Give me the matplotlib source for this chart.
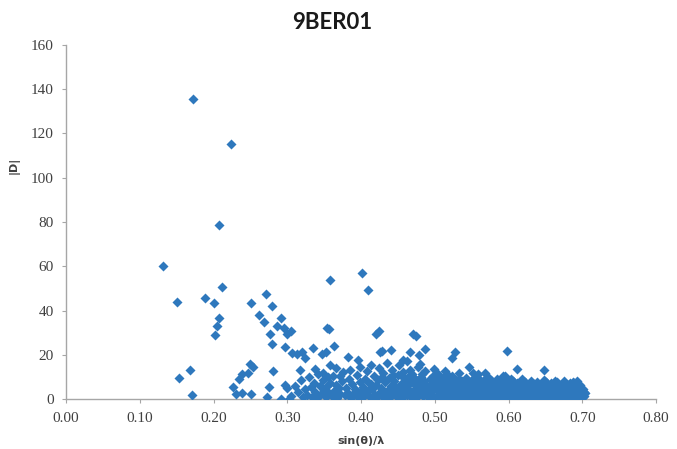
import matplotlib.pyplot as plt

# |D| against sin(theta)/lambda
outliers = [(0.172, 135.6), (0.224, 115.3), (0.207, 78.8), (0.131, 60.0), (0.151, 43.8),
            (0.188, 45.8), (0.201, 43.4), (0.212, 50.6), (0.208, 36.6), (0.205, 32.9),
            (0.202, 28.8), (0.153, 9.6), (0.168, 13.1), (0.171, 2.1), (0.226, 5.5),
            (0.231, 2.3), (0.239, 2.8), (0.251, 2.5), (0.235, 9.3), (0.239, 11.5),
            (0.247, 11.8), (0.249, 16.0), (0.253, 14.3), (0.251, 43.4), (0.271, 47.6),
            (0.279, 42.3), (0.262, 37.8), (0.268, 34.7), (0.292, 36.6), (0.286, 32.9),
            (0.296, 32.3), (0.276, 29.5), (0.300, 29.5), (0.305, 30.6), (0.279, 25.1),
            (0.297, 23.6), (0.306, 20.9), (0.313, 20.3), (0.320, 21.3), (0.324, 18.7),
            (0.335, 23.1), (0.347, 20.3), (0.353, 21.3), (0.364, 23.9), (0.358, 53.9),
            (0.354, 32.3), (0.356, 31.5), (0.402, 56.9), (0.409, 49.1), (0.420, 29.5),
            (0.425, 30.6), (0.280, 12.8), (0.358, 15.6), (0.383, 19.1), (0.440, 22.1),
            (0.429, 21.8), (0.475, 28.4), (0.471, 29.3), (0.466, 21.3), (0.273, 1.0),
            (0.275, 5.3), (0.291, 0.1), (0.302, 0.0), (0.297, 6.3), (0.299, 5.0),
            (0.317, 13.1), (0.487, 22.7), (0.598, 21.8), (0.648, 13.3), (0.611, 13.5),
            (0.595, 10.5), (0.546, 14.6), (0.527, 21.3), (0.524, 18.7), (0.558, 11.5),
            (0.478, 19.8), (0.457, 17.5), (0.480, 16.0), (0.473, 9.3), (0.396, 17.8),
            (0.426, 21.3)]

band_a = [(0.305, 1.5), (0.310, 6.0), (0.314, 3.2), (0.318, 8.5), (0.321, 0.8), (0.324, 4.6),
          (0.327, 2.1), (0.329, 9.8), (0.332, 5.5), (0.334, 1.2), (0.336, 7.4), (0.338, 3.3),
          (0.340, 0.5), (0.342, 11.2), (0.344, 6.1), (0.346, 2.4), (0.348, 8.8), (0.350, 4.0),
          (0.352, 0.9), (0.354, 5.8), (0.356, 2.9), (0.358, 7.1), (0.360, 1.4), (0.362, 10.5),
          (0.364, 3.8), (0.366, 6.6), (0.368, 0.6), (0.370, 4.9), (0.372, 2.2), (0.374, 8.1),
          (0.376, 12.4), (0.378, 1.8), (0.380, 5.2), (0.382, 3.0), (0.384, 9.2), (0.386, 0.7),
          (0.388, 6.9), (0.390, 2.6), (0.392, 4.4), (0.394, 11.0), (0.396, 1.1), (0.398, 7.8),
          (0.400, 3.6), (0.337, 13.6), (0.348, 12.0), (0.366, 14.2), (0.385, 13.3),
          (0.398, 14.6), (0.355, 9.9), (0.372, 10.6)]

band_b = [(0.402, 0.4), (0.403, 5.6), (0.405, 2.3), (0.406, 9.1), (0.408, 12.8), (0.409, 3.9),
          (0.411, 7.2), (0.412, 1.0), (0.414, 15.3), (0.415, 4.7), (0.417, 10.4), (0.418, 2.0),
          (0.420, 6.4), (0.421, 0.6), (0.423, 8.6), (0.424, 13.9), (0.426, 3.4), (0.427, 5.1),
          (0.429, 1.5), (0.430, 11.6), (0.432, 7.7), (0.433, 2.8), (0.435, 16.4), (0.436, 4.3),
          (0.438, 9.5), (0.439, 0.9), (0.441, 6.0), (0.442, 13.0), (0.444, 2.5), (0.445, 8.1),
          (0.447, 4.9), (0.448, 1.3), (0.450, 10.9), (0.451, 15.6), (0.453, 3.1), (0.454, 6.8),
          (0.456, 0.5), (0.457, 12.2), (0.459, 5.4), (0.460, 8.9), (0.462, 2.0), (0.463, 17.2),
          (0.465, 4.1), (0.466, 7.3), (0.468, 1.1), (0.469, 11.4), (0.471, 3.6), (0.472, 9.7),
          (0.474, 5.8), (0.475, 0.7), (0.477, 14.3), (0.478, 2.7), (0.480, 6.6), (0.481, 10.1),
          (0.483, 4.5), (0.484, 1.6), (0.486, 8.3), (0.487, 12.7), (0.489, 3.0), (0.490, 5.9),
          (0.492, 0.9), (0.493, 9.3), (0.495, 2.4), (0.496, 7.0), (0.498, 4.2), (0.499, 13.4),
          (0.413, 6.9), (0.428, 9.8), (0.443, 11.0), (0.458, 3.5), (0.473, 7.9), (0.488, 1.8),
          (0.497, 10.6), (0.419, 1.9), (0.434, 0.3), (0.449, 5.0), (0.464, 9.9), (0.479, 3.9),
          (0.494, 6.3), (0.4525, 0.2), (0.4615, 5.7), (0.4705, 2.0), (0.4755, 8.2),
          (0.4855, 6.3), (0.4915, 3.2), (0.4965, 0.2), (0.4565, 10.1), (0.4665, 13.0),
          (0.4825, 11.2)]

band_c = [(0.501, 0.6), (0.502, 4.8), (0.503, 8.2), (0.504, 2.1), (0.505, 11.3), (0.506, 6.0),
          (0.507, 1.2), (0.508, 3.7), (0.509, 9.4), (0.510, 5.1), (0.511, 0.4), (0.512, 7.3),
          (0.513, 2.8), (0.514, 12.6), (0.515, 4.4), (0.516, 1.7), (0.517, 6.7), (0.518, 9.0),
          (0.519, 3.2), (0.520, 0.8), (0.521, 5.6), (0.522, 2.3), (0.523, 7.9), (0.524, 10.5),
          (0.525, 4.0), (0.526, 1.4), (0.527, 6.2), (0.528, 3.1), (0.529, 8.6), (0.530, 0.5),
          (0.531, 4.9), (0.532, 2.6), (0.533, 11.8), (0.534, 6.9), (0.535, 1.9), (0.536, 3.8),
          (0.537, 8.0), (0.538, 5.3), (0.539, 0.9), (0.540, 2.9), (0.541, 7.1), (0.542, 4.3),
          (0.543, 9.7), (0.544, 1.3), (0.545, 6.4), (0.546, 3.4), (0.547, 0.6), (0.548, 5.0),
          (0.549, 8.4), (0.550, 2.2), (0.551, 4.6), (0.552, 7.5), (0.553, 1.0), (0.554, 3.6),
          (0.555, 10.2), (0.556, 5.7), (0.557, 2.0), (0.558, 0.4), (0.559, 6.6), (0.560, 3.9),
          (0.561, 8.8), (0.562, 1.6), (0.563, 4.5), (0.564, 2.7), (0.565, 7.0), (0.566, 0.8),
          (0.567, 5.4), (0.568, 9.3), (0.569, 3.3), (0.570, 1.5), (0.571, 6.1), (0.572, 4.1),
          (0.573, 2.4), (0.574, 7.7), (0.575, 0.7), (0.576, 5.2), (0.577, 3.0), (0.578, 8.1),
          (0.579, 1.8), (0.580, 4.7), (0.581, 6.8), (0.582, 2.5), (0.583, 0.5), (0.584, 3.7),
          (0.585, 9.0), (0.586, 5.5), (0.587, 1.2), (0.588, 7.3), (0.589, 2.9), (0.590, 4.4),
          (0.591, 0.9), (0.592, 6.3), (0.593, 3.5), (0.594, 8.6), (0.595, 1.7), (0.596, 5.0),
          (0.597, 2.1), (0.598, 7.1), (0.599, 3.8), (0.600, 0.6),
          (0.5035, 6.7), (0.5085, 0.2), (0.5135, 4.6), (0.5185, 10.8), (0.5235, 0.3),
          (0.5285, 5.2), (0.5335, 3.0), (0.5385, 7.0), (0.5435, 0.2), (0.5485, 3.1),
          (0.5535, 5.9), (0.5585, 8.2), (0.5635, 0.2), (0.5685, 1.9), (0.5735, 5.0),
          (0.5785, 0.2), (0.5835, 6.0), (0.5885, 4.9), (0.5935, 0.2), (0.5985, 5.6),
          (0.5125, 9.9), (0.5325, 9.2), (0.5525, 11.6), (0.5725, 9.9), (0.5925, 10.3),
          (0.5675, 11.7)]

band_d = [(0.601, 4.6), (0.602, 1.9), (0.603, 6.5), (0.604, 3.2), (0.605, 0.5), (0.606, 8.0),
          (0.607, 2.6), (0.608, 5.3), (0.609, 1.1), (0.610, 3.9), (0.611, 7.2), (0.612, 2.2),
          (0.613, 0.7), (0.614, 4.9), (0.615, 6.8), (0.616, 1.5), (0.617, 3.4), (0.618, 9.2),
          (0.619, 2.8), (0.620, 5.7), (0.621, 0.4), (0.622, 4.2), (0.623, 7.6), (0.624, 1.8),
          (0.625, 3.0), (0.626, 6.0), (0.627, 0.9), (0.628, 4.5), (0.629, 2.4), (0.630, 8.3),
          (0.631, 5.1), (0.632, 1.3), (0.633, 3.7), (0.634, 6.7), (0.635, 0.6), (0.636, 2.9),
          (0.637, 5.4), (0.638, 1.6), (0.639, 7.9), (0.640, 3.3), (0.641, 4.8), (0.642, 0.8),
          (0.643, 2.0), (0.644, 6.2), (0.645, 3.8), (0.646, 1.2), (0.647, 5.6), (0.648, 8.7),
          (0.649, 2.5), (0.650, 0.5), (0.651, 4.3), (0.652, 6.9), (0.653, 1.7), (0.654, 3.1),
          (0.655, 5.0), (0.656, 0.9), (0.657, 7.4), (0.658, 2.7), (0.659, 4.6), (0.660, 1.4),
          (0.661, 6.1), (0.662, 3.5), (0.663, 0.6), (0.664, 5.3), (0.665, 2.2), (0.666, 7.8),
          (0.667, 4.0), (0.668, 1.0), (0.669, 6.4), (0.670, 3.0), (0.671, 5.5), (0.672, 0.7),
          (0.673, 2.4), (0.674, 7.0), (0.675, 4.4), (0.676, 1.5), (0.677, 5.9), (0.678, 3.3),
          (0.679, 0.5), (0.680, 6.6), (0.681, 2.6), (0.682, 4.9), (0.683, 1.2), (0.684, 7.3),
          (0.685, 3.6), (0.686, 0.8), (0.687, 5.2), (0.688, 2.1), (0.689, 6.3), (0.690, 3.9),
          (0.691, 1.0), (0.692, 4.7), (0.693, 2.9), (0.694, 6.0), (0.695, 0.6), (0.696, 3.4),
          (0.697, 5.1), (0.698, 1.8), (0.699, 4.0), (0.700, 2.3), (0.701, 0.9), (0.702, 3.2),
          (0.703, 1.5), (0.704, 2.6),
          (0.6015, 2.9), (0.6045, 5.8), (0.6085, 0.3), (0.6125, 4.4), (0.6165, 7.0),
          (0.6205, 2.0), (0.6245, 5.1), (0.6285, 0.3), (0.6325, 7.2), (0.6365, 4.1),
          (0.6405, 1.9), (0.6445, 4.3), (0.6485, 0.2), (0.6525, 2.9), (0.6565, 5.8),
          (0.6605, 3.7), (0.6645, 0.3), (0.6685, 2.8), (0.6725, 4.6), (0.6765, 6.9),
          (0.6805, 0.2), (0.6845, 5.0), (0.6885, 7.1), (0.6925, 0.3), (0.6965, 6.6),
          (0.7005, 4.6), (0.6035, 8.9), (0.6155, 5.2), (0.6275, 7.0), (0.6395, 6.0),
          (0.6515, 7.9), (0.6635, 8.4), (0.6755, 8.2), (0.6875, 7.9), (0.6935, 8.4),
          (0.6625, 4.8), (0.6505, 6.1), (0.6385, 0.2), (0.6265, 3.9), (0.6145, 2.4),
          (0.6855, 2.9), (0.6975, 0.3), (0.6705, 1.9), (0.6585, 0.2), (0.6465, 2.4)]

x_ticks = [0.0, 0.1, 0.2, 0.3, 0.4, 0.5, 0.6, 0.7, 0.8]
y_ticks = [0, 20, 40, 60, 80, 100, 120, 140, 160]

points = outliers + band_a + band_b + band_c + band_d
xs = [p[0] for p in points]
ys = [p[1] for p in points]

fig = plt.figure(figsize=(6.77, 4.49), dpi=100)
ax = fig.add_axes([0.0975, 0.111, 0.8715, 0.789])

ax.scatter(xs, ys, marker='D', s=26, color='#2e78bd', linewidths=0, zorder=3)

ax.set_xlim(0, 0.8)
ax.set_ylim(0, 160)
ax.set_xticks(x_ticks)
ax.set_xticklabels(['%.2f' % t for t in x_ticks])
ax.set_yticks(y_ticks)

for s in ['top', 'right']:
    ax.spines[s].set_visible(False)
for s in ['left', 'bottom']:
    ax.spines[s].set_color('#a6a6a6')
    ax.spines[s].set_linewidth(1.0)
ax.tick_params(direction='out', length=3, color='#a6a6a6', labelcolor='#404040', pad=6)
for lbl in ax.get_xticklabels() + ax.get_yticklabels():
    lbl.set_family('Liberation Serif')
    lbl.set_fontsize(11)

fig.text(0.49, 0.95, '9BER01', ha='center', va='center', fontsize=16,
         fontweight='bold', family='Lato', color='#1a1a1a')
ax.set_xlabel('sin(θ)/λ', fontsize=8, fontweight='bold', family='DejaVu Sans',
              color='#404040', labelpad=8)
fig.text(14 / 677, 1 - 165 / 449, '|D|', rotation=90, ha='center', va='center',
         fontsize=8, fontweight='bold', family='DejaVu Sans', color='#404040')

fig.savefig('out.png', dpi=100)
